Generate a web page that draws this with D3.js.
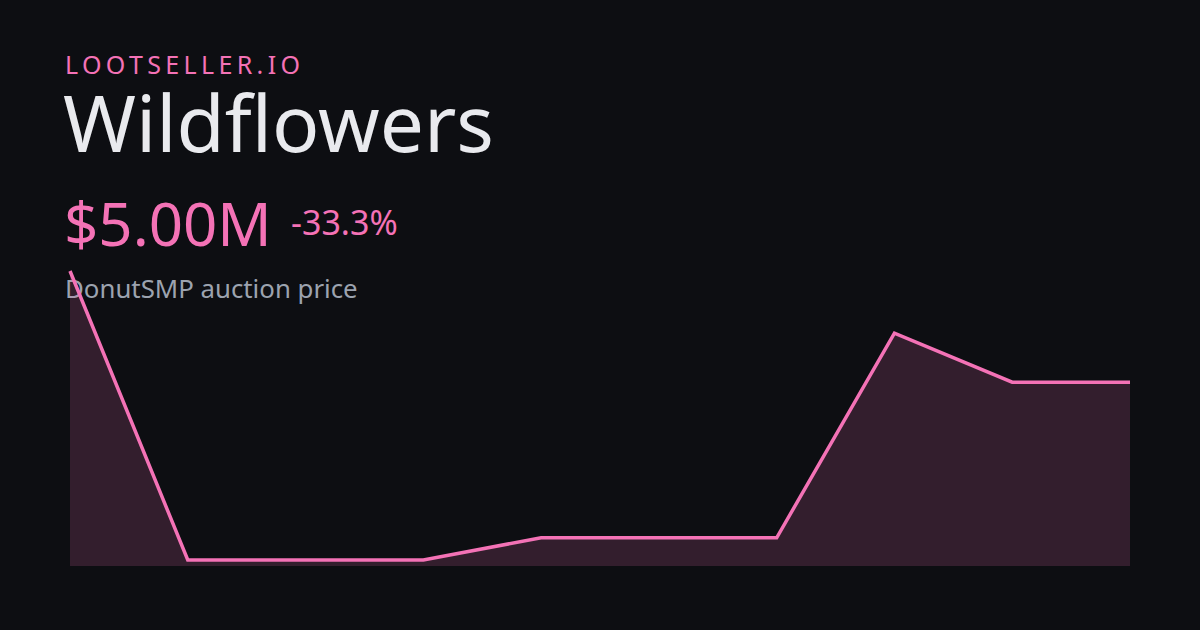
<!DOCTYPE html>
<html><head><meta charset="utf-8">
<script src="https://cdn.jsdelivr.net/npm/d3@7"></script>
<style>html,body{margin:0;padding:0;background:#0d0e12;}svg{display:block;}</style>
</head><body>
<svg id="c" width="1200" height="630"></svg>
<script>
const brand = "LOOTSELLER.IO";
const title = "Wildflowers";
const priceLabel = "$5.00M";
const changeLabel = "-33.3%";
const subtitle = "DonutSMP auction price";
const points = [0,1,2,3,4,5,6,7,8,9];
const prices = [7.5, 1.0, 1.0, 1.0, 1.5, 1.5, 1.5, 6.1, 5.0, 5.0];

const svg = d3.select("#c");
svg.append("rect").attr("width",1200).attr("height",630).attr("fill","#0d0e12");

const font = "'Noto Sans', 'Open Sans', sans-serif";
svg.append("text").attr("x",65).attr("y",74).attr("fill","#f472b6")
  .attr("font-family",font).attr("font-size",25).attr("letter-spacing",4.35).text(brand);
svg.append("text").attr("x",63).attr("y",152).attr("fill","#e9eaee")
  .attr("font-family",font).attr("font-size",78.5).text(title);
svg.append("text").attr("x",64).attr("y",246).attr("fill","#f472b6")
  .attr("font-family",font).attr("font-size",60).text(priceLabel);
svg.append("text").attr("x",291).attr("y",235).attr("fill","#f472b6")
  .attr("font-family",font).attr("font-size",34).text(changeLabel);
svg.append("text").attr("x",65).attr("y",298).attr("fill","#9ca3af")
  .attr("font-family",font).attr("font-size",25.8).text(subtitle);

const x = d3.scaleLinear().domain(d3.extent(points)).range([70,1130]);
const y = d3.scaleLinear().domain([d3.min(prices), d3.max(prices)]).range([560,271]);
const base = 566;
const data = points.map((d,i)=>({x:d,v:prices[i]}));

svg.append("path").datum(data)
  .attr("d", d3.area().x(d=>x(d.x)).y0(base).y1(d=>y(d.v)))
  .attr("fill","#f472b6").attr("fill-opacity",0.17);
svg.append("path").datum(data)
  .attr("d", d3.line().x(d=>x(d.x)).y(d=>y(d.v)))
  .attr("fill","none").attr("stroke","#f472b6").attr("stroke-width",3.5)
  .attr("stroke-linejoin","miter");
</script>
</body></html>
